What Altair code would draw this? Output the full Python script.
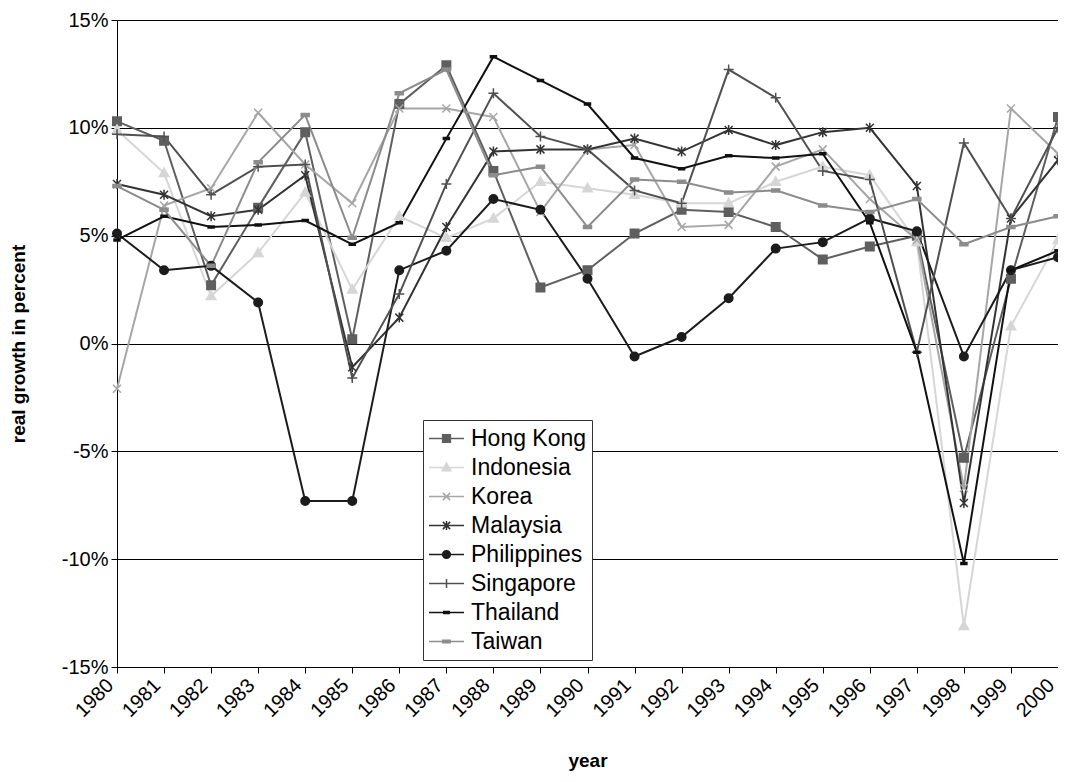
import altair as alt
import pandas as pd

years = list(range(1980, 2001))

countries = ["Hong Kong", "Indonesia", "Korea", "Malaysia",
             "Philippines", "Singapore", "Thailand", "Taiwan"]

hong_kong = [10.3, 9.4, 2.7, 6.3, 9.8, 0.2, 11.1, 12.9, 8.0, 2.6, 3.4,
             5.1, 6.2, 6.1, 5.4, 3.9, 4.5, 5.0, -5.3, 3.0, 10.5]
indonesia = [9.9, 7.9, 2.2, 4.2, 7.0, 2.5, 5.9, 4.9, 5.8, 7.5, 7.2,
             6.9, 6.5, 6.5, 7.5, 8.2, 7.8, 4.7, -13.1, 0.8, 4.8]
korea = [-2.1, 6.4, 7.2, 10.7, 8.3, 6.5, 10.9, 10.9, 10.5, 6.1, 9.0,
         9.2, 5.4, 5.5, 8.2, 9.0, 6.7, 4.8, -6.7, 10.9, 8.8]
malaysia = [7.4, 6.9, 5.9, 6.2, 7.8, -1.1, 1.2, 5.4, 8.9, 9.0, 9.0,
            9.5, 8.9, 9.9, 9.2, 9.8, 10.0, 7.3, -7.4, 5.8, 8.5]
philippines = [5.1, 3.4, 3.6, 1.9, -7.3, -7.3, 3.4, 4.3, 6.7, 6.2, 3.0,
               -0.6, 0.3, 2.1, 4.4, 4.7, 5.8, 5.2, -0.6, 3.4, 4.0]
singapore = [9.7, 9.6, 6.9, 8.2, 8.3, -1.6, 2.3, 7.4, 11.6, 9.6, 9.0,
             7.1, 6.5, 12.7, 11.4, 8.0, 7.6, -0.4, 9.3, 5.8, 10.0]
thailand = [4.8, 5.9, 5.4, 5.5, 5.7, 4.6, 5.6, 9.5, 13.3, 12.2, 11.1,
            8.6, 8.1, 8.7, 8.6, 8.8, 5.6, -0.4, -10.2, 3.4, 4.3]
taiwan = [7.3, 6.2, 3.6, 8.4, 10.6, 4.9, 11.6, 12.7, 7.8, 8.2, 5.4,
          7.6, 7.5, 7.0, 7.1, 6.4, 6.1, 6.7, 4.6, 5.4, 5.9]

series = [hong_kong, indonesia, korea, malaysia,
          philippines, singapore, thailand, taiwan]

y_ticks = [-15, -10, -5, 0, 5, 10, 15]

colors = ["#5f5f5f", "#d6d6d6", "#a6a6a6", "#333333",
          "#1c1c1c", "#505050", "#111111", "#8c8c8c"]

rows = []
for c, vals in zip(countries, series):
    for yr, v in zip(years, vals):
        rows.append({"country": c, "year": yr, "growth": v})
df = pd.DataFrame(rows)


def r(v):
    return f"{round(v, 3)}"


def marker(kind, k):
    if kind == "square":
        a = 0.85 * k
        return f"M{r(-a)},{r(-a)}H{r(a)}V{r(a)}H{r(-a)}Z"
    if kind == "triangle":
        return f"M0,{r(-1.0*k)}L{r(0.95*k)},{r(0.7*k)}H{r(-0.95*k)}Z"
    if kind == "x":
        a = 0.8 * k
        return f"M{r(-a)},{r(-a)}L{r(a)},{r(a)}M{r(-a)},{r(a)}L{r(a)},{r(-a)}"
    if kind == "asterisk":
        a = 0.8 * k
        b = 1.0 * k
        return (f"M{r(-a)},{r(-a)}L{r(a)},{r(a)}M{r(-a)},{r(a)}L{r(a)},{r(-a)}"
                f"M0,{r(-b)}V{r(b)}")
    if kind == "circle":
        a = 0.85 * k
        return f"M{r(-a)},0A{r(a)},{r(a)} 0 1,0 {r(a)},0A{r(a)},{r(a)} 0 1,0 {r(-a)},0Z"
    if kind == "plus":
        a = 1.0 * k
        return f"M{r(-a)},0H{r(a)}M0,{r(-a)}V{r(a)}"
    if kind == "dash_small":
        w, h = 0.6 * k, 0.2 * k
        return f"M{r(-w)},{r(-h)}H{r(w)}V{r(h)}H{r(-w)}Z"
    if kind == "dash":
        w, h = 0.8 * k, 0.3 * k
        return f"M{r(-w)},{r(-h)}H{r(w)}V{r(h)}H{r(-w)}Z"
    return ""


kinds = ["square", "triangle", "x", "asterisk",
         "circle", "plus", "dash_small", "dash"]
chart_shapes = [marker(k, 1.0) for k in kinds]
legend_shapes = ["M-1,0H1" + marker(k, 0.26) for k in kinds]

FONT = "Liberation Sans"

x_enc = alt.X("year:Q",
              scale=alt.Scale(domain=[1980, 2000], nice=False, zero=False),
              axis=alt.Axis(values=years, format="d", labelAngle=-45,
                            labelAlign="right", labelBaseline="bottom",
                            title="year", titleFontWeight="bold",
                            titleFontSize=19, titleY=84,
                            labelFontSize=20, tickSize=6, grid=False,
                            domainColor="black", tickColor="black",
                            labelColor="black", titleColor="black",
                            labelFont=FONT, titleFont=FONT, labelPadding=16))
y_enc = alt.Y("growth:Q",
              scale=alt.Scale(domain=[-15, 15], nice=False),
              axis=alt.Axis(values=y_ticks,
                            labelExpr="(datum.value < 0 ? '-' : '') + abs(datum.value) + '%'",
                            title="real growth in percent",
                            titleFontWeight="bold", titleFontSize=19,
                            labelFontSize=20, tickSize=6, grid=True,
                            gridColor="black", gridOpacity=1, gridWidth=1,
                            domainColor="black", tickColor="black",
                            labelColor="black", titleColor="black",
                            labelFont=FONT, titleFont=FONT, labelPadding=3,
                            titlePadding=33))

col_scale = alt.Scale(domain=countries, range=colors)

lines = alt.Chart(df).mark_line(strokeWidth=2).encode(
    x=x_enc, y=y_enc,
    stroke=alt.Stroke("country:N", scale=col_scale, legend=None),
)

points = alt.Chart(df).mark_point(size=100, strokeWidth=1.5, opacity=1).encode(
    x=x_enc, y=y_enc,
    fill=alt.Fill("country:N", scale=col_scale, legend=None),
    stroke=alt.Stroke("country:N", scale=col_scale, legend=None),
    shape=alt.Shape("country:N",
                    scale=alt.Scale(domain=countries, range=chart_shapes),
                    legend=None),
)

leg = alt.Legend(title=None, orient="none", legendX=306, legendY=400,
                 labelFontSize=23, labelFont=FONT, labelColor="black",
                 symbolSize=1225, symbolStrokeWidth=1.5, clipHeight=27,
                 rowPadding=2, padding=5, labelOffset=6,
                 strokeColor="#333333", fillColor="white", cornerRadius=0)

legend_layer = alt.Chart(df).transform_filter(
    "datum.year < 0"
).mark_point(size=1225, strokeWidth=1.5, opacity=1).encode(
    fill=alt.Fill("country:N", scale=col_scale, legend=leg),
    stroke=alt.Stroke("country:N", scale=col_scale, legend=leg),
    shape=alt.Shape("country:N",
                    scale=alt.Scale(domain=countries, range=legend_shapes),
                    legend=leg),
)

chart = alt.layer(lines, points, legend_layer).resolve_scale(
    fill="independent", stroke="independent", shape="independent"
).properties(
    width=941, height=647,
    autosize=alt.AutoSizeParams(type="none"),
    padding={"left": 109, "top": 12, "right": 0, "bottom": 104},
    background="white",
).configure_view(strokeWidth=0)

chart.save("out.html", embed_options={"renderer": "svg", "actions": False})
